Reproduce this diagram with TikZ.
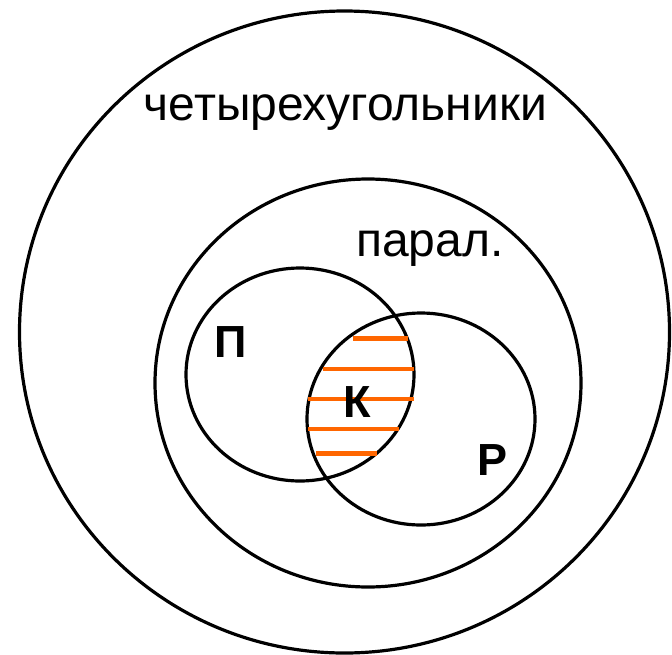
\documentclass[tikz,border=0pt]{standalone}
\usepackage{fontspec}
\setmainfont{Liberation Sans}
\definecolor{hatchorange}{RGB}{255,102,0}
\begin{document}
\begin{tikzpicture}[x=1pt,y=-1pt,
  ring/.style={draw=black,line width=3.2pt},
  hatch/.style={draw=hatchorange,line width=4.5pt},
  txt/.style={anchor=base,inner sep=0pt,font=\fontsize{48}{48}\selectfont},
  lbl/.style={anchor=base,inner sep=0pt,font=\fontsize{45}{45}\selectfont\bfseries}]
\useasboundingbox (0,0) rectangle (672,654);
% circles
\draw[ring] (344.5,332) ellipse [x radius=325pt, y radius=321pt];
\draw[ring] (368,383) ellipse [x radius=213pt, y radius=204pt];
\draw[ring] (300,374.5) ellipse [x radius=114pt, y radius=106.5pt];
\draw[ring] (421,419) ellipse [x radius=114pt, y radius=106pt];
% hatching of the intersection
\coordinate (h1a) at (353,338.5); \coordinate (h1b) at (408,338.5);
\coordinate (h2a) at (323,369);   \coordinate (h2b) at (414,369);
\coordinate (h3a) at (308,399);   \coordinate (h3b) at (414,399);
\coordinate (h4a) at (308,429);   \coordinate (h4b) at (399,429);
\coordinate (h5a) at (316,453.3); \coordinate (h5b) at (377,453.3);
\draw[hatch] (h1a) -- (h1b);
\draw[hatch] (h2a) -- (h2b);
\draw[hatch] (h3a) -- (h3b);
\draw[hatch] (h4a) -- (h4b);
\draw[hatch] (h5a) -- (h5b);
% texts
\node[txt] (quad) at (345.5,120) {четырехугольники};
\node[txt] (par) at (430,256.5) {парал.};
\node[lbl] (P) at (230.3,357.8) {П};
\node[lbl] (K) at (356.8,417) {К};
\node[lbl] (R) at (493,475.4) {Р};
\end{tikzpicture}
\end{document}
